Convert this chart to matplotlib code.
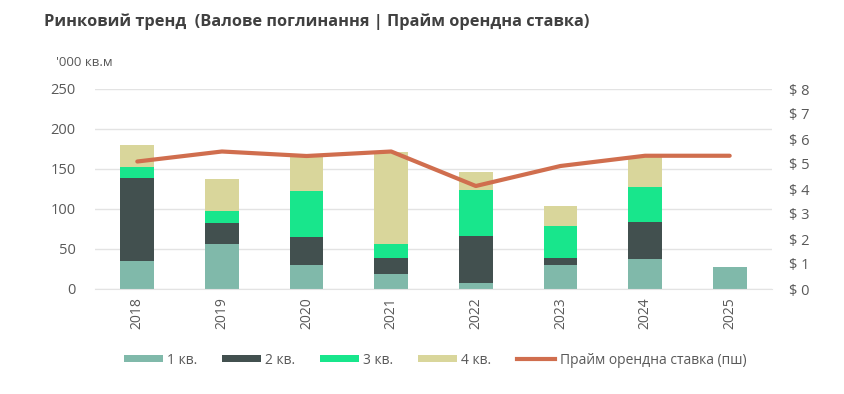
import matplotlib
matplotlib.use("Agg")
import matplotlib.pyplot as plt
import numpy as np
from matplotlib.patches import Patch
from matplotlib.lines import Line2D

years = ["2018", "2019", "2020", "2021", "2022", "2023", "2024", "2025"]
q1 = [35, 56, 30, 19, 8, 30, 38, 27]
q2 = [104, 27, 35, 20, 58, 9, 46, 0]
q3 = [13, 14, 58, 17, 58, 40, 44, 0]
q4 = [28, 41, 42, 115, 22, 25, 37, 0]
rent = [5.1, 5.5, 5.32, 5.5, 4.12, 4.92, 5.33, 5.33]
left_ticks = [0, 50, 100, 150, 200, 250]
right_ticks = [0, 1, 2, 3, 4, 5, 6, 7, 8]
series_labels = ["1 кв.", "2 кв.", "3 кв.", "4 кв."]
line_label = "Прайм орендна ставка (пш)"

colors = ["#80B9AA", "#42504F", "#18E68C", "#D9D69B"]
line_color = "#D06E4E"
text_color = "#595959"

plt.rcParams['font.family'] = ['Open Sans', 'DejaVu Sans']

fig = plt.figure(figsize=(8.44, 3.94), dpi=100)
ax = fig.add_axes([95/844, 1-289/394, (772-95)/844, 200/394])
x = np.arange(len(years))
bottom = np.zeros(len(years))
for vals, c in zip([q1, q2, q3, q4], colors):
    ax.bar(x, vals, width=0.4, bottom=bottom, color=c, zorder=2)
    bottom += np.array(vals)

ax.set_xlim(-0.5, len(years) - 0.5)
ax.set_ylim(0, 250)
ax.set_yticks(left_ticks)
ax.set_yticklabels([str(t) for t in left_ticks], fontsize=10.5, color=text_color)
ax.set_xticks(x)
ax.set_xticklabels(years, rotation=90, fontsize=10, color=text_color)
ax.grid(axis='y', color="#E3E3E3", linewidth=1, zorder=0)
for s in ax.spines.values():
    s.set_visible(False)
ax.spines['bottom'].set_visible(True)
ax.spines['bottom'].set_color("#E3E3E3")
ax.tick_params(axis='both', length=0, pad=6)
ax.tick_params(axis='y', pad=14)

ax2 = ax.twinx()
ax2.plot(x, rent, color=line_color, linewidth=3, solid_capstyle='round', zorder=5)
ax2.set_ylim(0, 8)
ax2.set_yticks(right_ticks)
ax2.set_yticklabels([f"$ {t}" for t in right_ticks], fontsize=10.5, color=text_color)
ax2.tick_params(axis='y', length=0, pad=12)
for s in ax2.spines.values():
    s.set_visible(False)

fig.text(44/844, 1-22/394, "Ринковий тренд  (Валове поглинання | Прайм орендна ставка)",
         fontsize=11.8, fontweight='bold', color="#404040", va='center', ha='left')
fig.text(56/844, 1-62/394, "'000 кв.м", fontsize=9.5, color=text_color, va='center', ha='left')

handles = [Patch(facecolor=c, edgecolor='none') for c in colors]
handles.append(Line2D([0], [0], color=line_color, linewidth=3))
fig.legend(handles, series_labels + [line_label], loc='center', bbox_to_anchor=(435/844, 1-360/394),
           ncol=5, frameon=False, fontsize=10, handlelength=2.8, handleheight=0.45,
           columnspacing=1.8, handletextpad=0.3, labelcolor=text_color)

fig.savefig("out.png", dpi=100)
